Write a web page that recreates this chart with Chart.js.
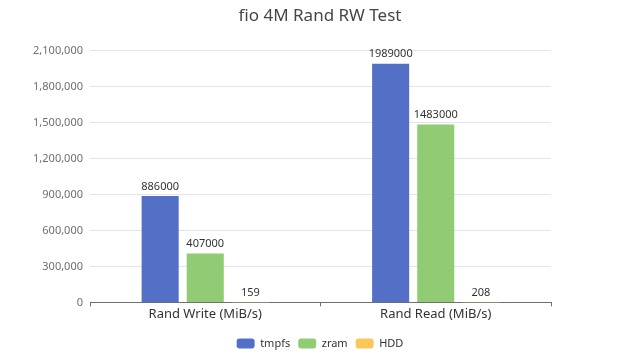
<!DOCTYPE html>
<html>
<head>
<meta charset="utf-8">
<script src="https://cdn.jsdelivr.net/npm/chart.js@4/dist/chart.umd.min.js"></script>
<style>
  html, body { margin: 0; padding: 0; background: #fff; }
  #wrap { width: 640px; height: 360px; }
</style>
</head>
<body>
<div id="wrap"><canvas id="chart"></canvas></div>
<script>
const categories = ['Rand Write (MiB/s)', 'Rand Read (MiB/s)'];
const tmpfsValues = [886000, 1989000];
const zramValues = [407000, 1483000];
const hddValues = [159, 208];
const yTicks = [0, 300000, 600000, 900000, 1200000, 1500000, 1800000, 2100000];

const FONT = '"Noto Sans", "Open Sans", sans-serif';

// draws the value above each bar
const valueLabels = {
    id: 'valueLabels',
    afterDatasetsDraw(chart) {
        const ctx = chart.ctx;
        ctx.save();
        ctx.font = '11px ' + FONT;
        ctx.fillStyle = '#333';
        ctx.textAlign = 'center';
        ctx.textBaseline = 'bottom';
        chart.data.datasets.forEach((ds, i) => {
            chart.getDatasetMeta(i).data.forEach((bar, j) => {
                ctx.fillText(String(ds.data[j]), bar.x, bar.y - 4);
            });
        });
        ctx.restore();
    }
};

function dataset(label, values, color) {
    return {
        label: label,
        data: values,
        backgroundColor: color,
        borderWidth: 0,
        categoryPercentage: 0.587,
        barPercentage: 0.822
    };
}

new Chart(document.getElementById('chart'), {
    type: 'bar',
    data: {
        labels: categories,
        datasets: [
            dataset('tmpfs', tmpfsValues, '#5470c6'),
            dataset('zram', zramValues, '#91cc75'),
            dataset('HDD', hddValues, '#fac858')
        ]
    },
    options: {
        responsive: true,
        maintainAspectRatio: false,
        animation: false,
        layout: { padding: { left: 0, right: 0, top: 0, bottom: 1 } },
        plugins: {
            title: {
                display: true,
                text: 'fio 4M Rand RW Test',
                color: '#464646',
                font: { family: FONT, size: 17, weight: 'normal' },
                padding: { top: 6, bottom: 24 }
            },
            legend: {
                position: 'bottom',
                labels: {
                    boxWidth: 18,
                    boxHeight: 10,
                    useBorderRadius: true,
                    borderRadius: 3,
                    color: '#333',
                    font: { family: FONT, size: 11 },
                    padding: 8
                }
            },
            tooltip: { enabled: false }
        },
        scales: {
            x: {
                offset: true,
                afterFit(scale) {
                    scale.height += 8;
                },
                grid: {
                    offset: true,
                    drawOnChartArea: false,
                    drawTicks: true,
                    tickLength: 4,
                    color: '#6e7079'
                },
                border: { display: true, color: '#6e7079' },
                ticks: {
                    color: '#333',
                    font: { family: FONT, size: 13 },
                    padding: 0
                }
            },
            y: {
                min: 0,
                max: 2100000,
                afterBuildTicks(scale) {
                    scale.ticks = yTicks.map(v => ({ value: v }));
                },
                afterFit(scale) {
                    scale.width = 90;
                },
                grid: { color: '#e0e6f1', drawTicks: false },
                border: { display: false },
                ticks: {
                    color: '#6e7079',
                    font: { family: FONT, size: 11 },
                    padding: 7
                }
            },
            // empty right axis, only reserves the right margin
            spacer: {
                position: 'right',
                axis: 'y',
                afterFit(scale) {
                    scale.width = 89;
                },
                grid: { display: false },
                border: { display: false },
                ticks: { display: false }
            }
        }
    },
    plugins: [valueLabels]
});
</script>
</body>
</html>
